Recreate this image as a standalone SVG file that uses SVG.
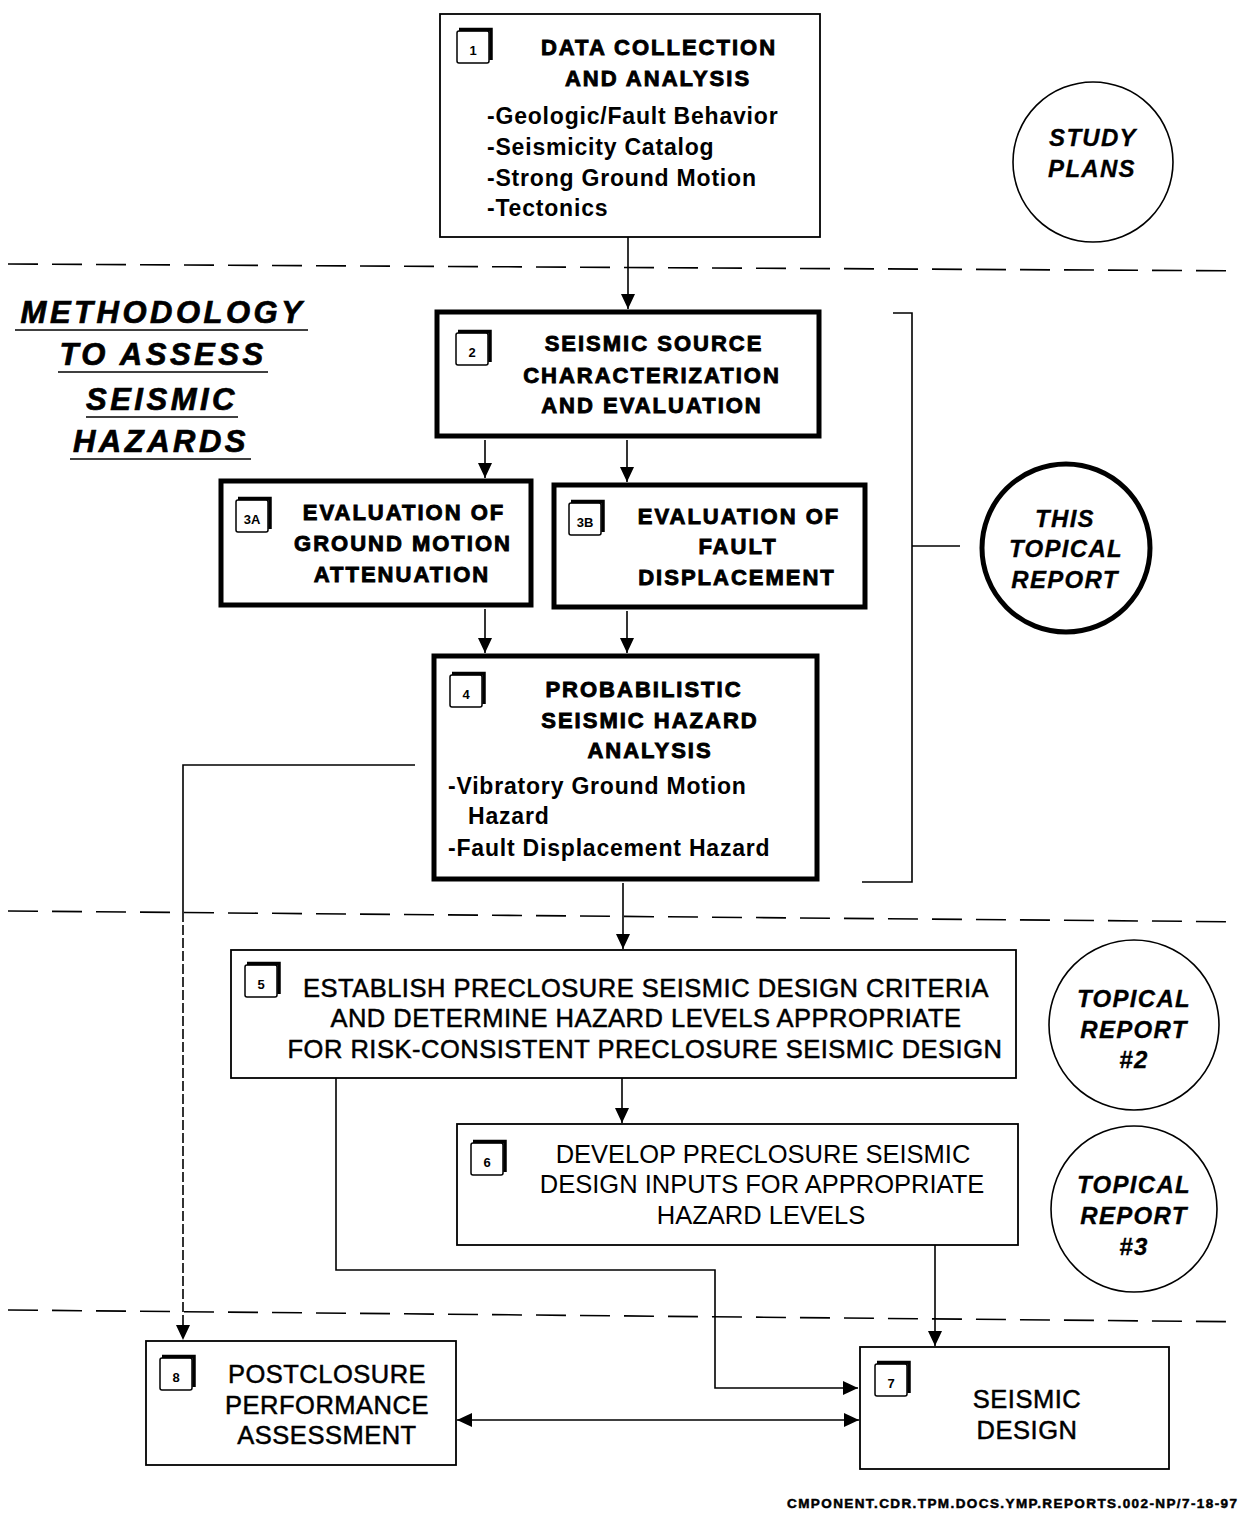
<svg xmlns="http://www.w3.org/2000/svg" width="1239" height="1513" viewBox="0 0 1239 1513">
<style>
.bg{fill:#fff}
.thin{fill:#fff;stroke:#000;stroke-width:1.8}
.thick{fill:#fff;stroke:#000;stroke-width:5}
.ln{fill:none;stroke:#000;stroke-width:1.6}
.dash{fill:none;stroke:#000;stroke-width:1.6;stroke-dasharray:30 14}
.ddash{fill:none;stroke:#000;stroke-width:1.6;stroke-dasharray:10 3}
.t{font-family:"Liberation Sans",Arial,sans-serif;fill:#000}
.title{font-size:22px;font-weight:bold;letter-spacing:2px;text-anchor:middle;stroke:#000;stroke-width:0.9}
.list{font-size:23px;font-weight:bold;letter-spacing:0.8px}
.reg{font-size:25.5px;text-anchor:middle}
.med{font-size:25.5px;text-anchor:middle;stroke:#000;stroke-width:0.5;letter-spacing:0.5px}
.circ{font-size:24px;font-weight:bold;font-style:italic;text-anchor:middle;letter-spacing:1.3px;stroke:#000;stroke-width:0.3}
.head{font-size:31px;font-weight:bold;font-style:italic;text-anchor:middle;letter-spacing:3.5px;stroke:#000;stroke-width:0.7}
.num{font-size:13px;font-weight:bold;text-anchor:middle}
</style>
<defs>
<marker id="ah" markerUnits="userSpaceOnUse" markerWidth="16" markerHeight="14" refX="15" refY="7" orient="auto">
<path d="M0,0 L15,7 L0,14 z" fill="#000"/>
</marker>
<marker id="ahs" markerUnits="userSpaceOnUse" markerWidth="16" markerHeight="14" refX="1" refY="7" orient="auto">
<path d="M16,0 L1,7 L16,14 z" fill="#000"/>
</marker>
<g id="badge">
<rect x="0" y="3" width="32" height="32" rx="2" fill="#fff" stroke="#000" stroke-width="1.5"/>
<path d="M2,1.5 H34 V32" fill="none" stroke="#000" stroke-width="3.5"/>
</g>
</defs>
<rect class="bg" x="0" y="0" width="1239" height="1513"/>

<g id="separators">
<line class="dash" x1="8" y1="264" x2="1260" y2="271"/>
<line class="dash" x1="8" y1="911" x2="1260" y2="922"/>
<line class="dash" x1="8" y1="1310" x2="1260" y2="1322"/>
</g>

<g id="heading">
<text class="t head" x="163" y="323">METHODOLOGY</text>
<text class="t head" x="163" y="365">TO ASSESS</text>
<text class="t head" x="162" y="410">SEISMIC</text>
<text class="t head" x="161" y="452">HAZARDS</text>
<line class="ln" x1="15" y1="330" x2="308" y2="330" stroke-width="2.5"/>
<line class="ln" x1="58" y1="372" x2="268" y2="372" stroke-width="2.5"/>
<line class="ln" x1="86" y1="417" x2="238" y2="417" stroke-width="2.5"/>
<line class="ln" x1="70" y1="459" x2="251" y2="459" stroke-width="2.5"/>
</g>

<g id="connectors">
<line class="ln" x1="628" y1="237" x2="628" y2="309" marker-end="url(#ah)"/>
<line class="ln" x1="485" y1="440" x2="485" y2="478" marker-end="url(#ah)"/>
<line class="ln" x1="627" y1="440" x2="627" y2="482" marker-end="url(#ah)"/>
<line class="ln" x1="485" y1="609" x2="485" y2="653" marker-end="url(#ah)"/>
<line class="ln" x1="627" y1="611" x2="627" y2="653" marker-end="url(#ah)"/>
<line class="ln" x1="623" y1="883" x2="623" y2="949" marker-end="url(#ah)"/>
<line class="ln" x1="622" y1="1078" x2="622" y2="1123" marker-end="url(#ah)"/>
<polyline class="ln" points="415,765 183,765 183,912"/>
<line class="ddash" x1="183" y1="912" x2="183" y2="1340" marker-end="url(#ah)"/>
<polyline class="ln" points="336,1078 336,1270 715,1270 715,1388 858,1388" marker-end="url(#ah)"/>
<line class="ln" x1="935" y1="1245" x2="935" y2="1346" marker-end="url(#ah)"/>
<line class="ln" x1="457" y1="1420" x2="859" y2="1420" marker-start="url(#ahs)" marker-end="url(#ah)"/>
<polyline class="ln" points="893,313 912,313 912,882 862,882"/>
<line class="ln" x1="912" y1="546" x2="960" y2="546"/>
</g>

<g id="node1">
<rect class="thin" x="440" y="14" width="380" height="223"/>
<use href="#badge" x="457" y="28"/>
<text class="t num" x="473" y="55">1</text>
<text class="t title" x="659" y="55">DATA COLLECTION</text>
<text class="t title" x="658" y="86">AND ANALYSIS</text>
<text class="t list" x="487" y="124">-Geologic/Fault Behavior</text>
<text class="t list" x="487" y="155">-Seismicity Catalog</text>
<text class="t list" x="487" y="186">-Strong Ground Motion</text>
<text class="t list" x="487" y="216">-Tectonics</text>
</g>

<g id="studyplans">
<circle cx="1093" cy="162" r="80" fill="none" stroke="#000" stroke-width="1.6"/>
<text class="t circ" x="1093" y="146">STUDY</text>
<text class="t circ" x="1092" y="177">PLANS</text>
</g>

<g id="node2">
<rect class="thick" x="437" y="312" width="382" height="124"/>
<use href="#badge" x="456" y="330"/>
<text class="t num" x="472" y="357">2</text>
<text class="t title" x="654" y="351">SEISMIC SOURCE</text>
<text class="t title" x="652" y="383">CHARACTERIZATION</text>
<text class="t title" x="652" y="413">AND EVALUATION</text>
</g>

<g id="node3a">
<rect class="thick" x="221" y="481" width="310" height="124"/>
<use href="#badge" x="236" y="497"/>
<text class="t num" x="252" y="524">3A</text>
<text class="t title" x="404" y="520">EVALUATION OF</text>
<text class="t title" x="403" y="551">GROUND MOTION</text>
<text class="t title" x="402" y="582">ATTENUATION</text>
</g>

<g id="node3b">
<rect class="thick" x="554" y="485" width="311" height="122"/>
<use href="#badge" x="569" y="500"/>
<text class="t num" x="585" y="527">3B</text>
<text class="t title" x="739" y="524">EVALUATION OF</text>
<text class="t title" x="738" y="554">FAULT</text>
<text class="t title" x="737" y="585">DISPLACEMENT</text>
</g>

<g id="node4">
<rect class="thick" x="434" y="656" width="383" height="223"/>
<use href="#badge" x="450" y="672"/>
<text class="t num" x="466" y="699">4</text>
<text class="t title" x="644" y="697">PROBABILISTIC</text>
<text class="t title" x="650" y="728">SEISMIC HAZARD</text>
<text class="t title" x="650" y="758">ANALYSIS</text>
<text class="t list" x="448" y="794">-Vibratory Ground Motion</text>
<text class="t list" x="468" y="824">Hazard</text>
<text class="t list" x="448" y="856">-Fault Displacement Hazard</text>
</g>

<g id="thisreport">
<circle cx="1066" cy="548" r="84" fill="none" stroke="#000" stroke-width="5"/>
<text class="t circ" x="1065" y="527">THIS</text>
<text class="t circ" x="1066" y="557">TOPICAL</text>
<text class="t circ" x="1065" y="588">REPORT</text>
</g>

<g id="node5">
<rect class="thin" x="231" y="950" width="785" height="128"/>
<use href="#badge" x="245" y="962"/>
<text class="t num" x="261" y="989">5</text>
<text class="t med" x="646" y="997">ESTABLISH PRECLOSURE SEISMIC DESIGN CRITERIA</text>
<text class="t med" x="646" y="1027">AND DETERMINE HAZARD LEVELS APPROPRIATE</text>
<text class="t med" x="645" y="1058">FOR RISK-CONSISTENT PRECLOSURE SEISMIC DESIGN</text>
</g>

<g id="report2">
<circle cx="1134" cy="1025" r="85" fill="none" stroke="#000" stroke-width="1.6"/>
<text class="t circ" x="1134" y="1007">TOPICAL</text>
<text class="t circ" x="1134" y="1038">REPORT</text>
<text class="t circ" x="1134" y="1068">#2</text>
</g>

<g id="node6">
<rect class="thin" x="457" y="1124" width="561" height="121"/>
<use href="#badge" x="471" y="1140"/>
<text class="t num" x="487" y="1167">6</text>
<text class="t reg" x="763" y="1163">DEVELOP PRECLOSURE SEISMIC</text>
<text class="t reg" x="762" y="1193">DESIGN INPUTS FOR APPROPRIATE</text>
<text class="t reg" x="761" y="1224">HAZARD LEVELS</text>
</g>

<g id="report3">
<circle cx="1134" cy="1209" r="83" fill="none" stroke="#000" stroke-width="1.6"/>
<text class="t circ" x="1134" y="1193">TOPICAL</text>
<text class="t circ" x="1134" y="1224">REPORT</text>
<text class="t circ" x="1134" y="1255">#3</text>
</g>

<g id="node8">
<rect class="thin" x="146" y="1341" width="310" height="124"/>
<use href="#badge" x="160" y="1355"/>
<text class="t num" x="176" y="1382">8</text>
<text class="t med" x="327" y="1383" letter-spacing="0">POSTCLOSURE</text>
<text class="t med" x="327" y="1414" letter-spacing="0">PERFORMANCE</text>
<text class="t med" x="327" y="1444" letter-spacing="0">ASSESSMENT</text>
</g>

<g id="node7">
<rect class="thin" x="860" y="1347" width="309" height="122"/>
<use href="#badge" x="875" y="1361"/>
<text class="t num" x="891" y="1388">7</text>
<text class="t med" x="1027" y="1408">SEISMIC</text>
<text class="t med" x="1027" y="1439">DESIGN</text>
</g>

<text class="t" x="787" y="1508" font-size="13.5" font-weight="bold" stroke="#000" stroke-width="0.5" textLength="450" lengthAdjust="spacing">CMPONENT.CDR.TPM.DOCS.YMP.REPORTS.002-NP/7-18-97</text>
</svg>
